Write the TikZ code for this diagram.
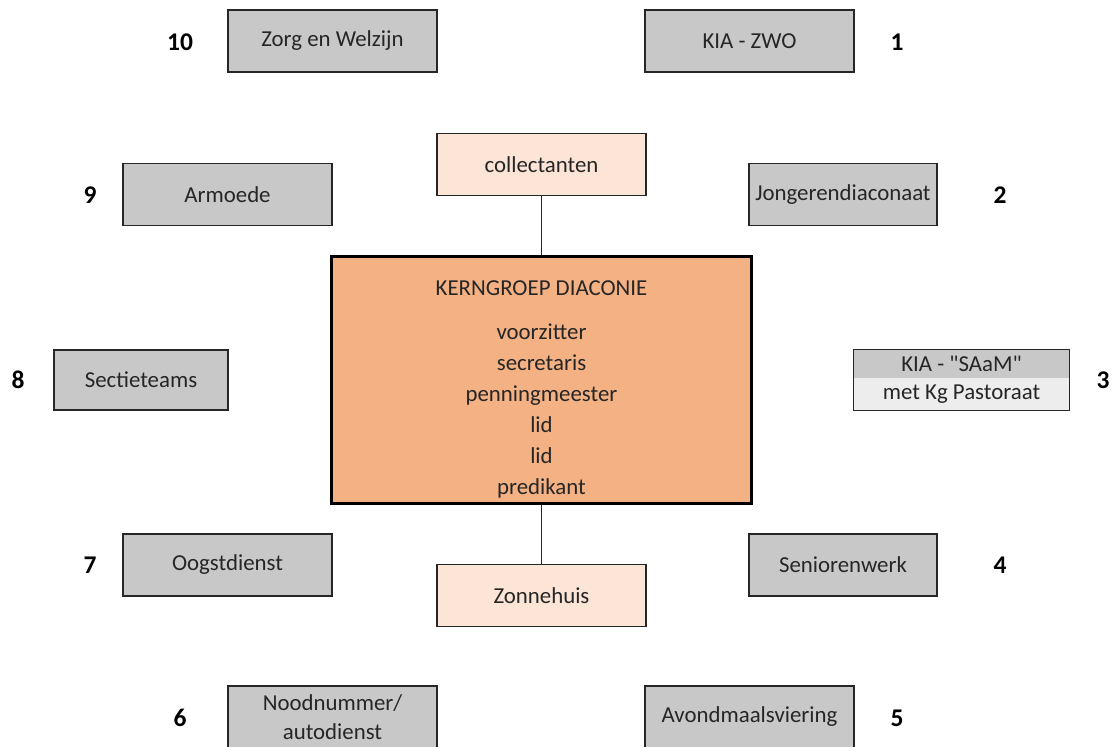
\documentclass[tikz,border=0pt]{standalone}
\usepackage{fontspec}
\setmainfont{Carlito}[Ligatures=TeXOff]
\usetikzlibrary{positioning}
\definecolor{grijsvak}{RGB}{200,200,200}
\definecolor{lichtgrijs}{RGB}{237,237,237}
\definecolor{kernoranje}{RGB}{244,177,131}
\definecolor{lichtperzik}{RGB}{252,228,214}
\definecolor{randkleur}{RGB}{38,38,38}
\tikzset{
  werkvak/.style={draw=randkleur, line width=0.9pt, fill=grijsvak, minimum width=4.18cm,
    minimum height=1.24cm, inner sep=1pt, align=center, text=randkleur},
  smalvak/.style={werkvak, minimum width=3.76cm},
  perzikvak/.style={werkvak, fill=lichtperzik},
  nummer/.style={font=\fontsize{14.5}{16}\selectfont\bfseries, text=black, inner sep=0pt},
  lijn/.style={draw=randkleur, line width=0.7pt}
}
\begin{document}
\begin{tikzpicture}[x=0.02cm, y=-0.02cm, font=\fontsize{13}{15.6}\selectfont]
			\clip (0,0) rectangle (1117,747);
			\fill[white] (0,0) rectangle (1117,747);
			% bovenste rij
			\node[werkvak] (zorg) at (332.5,41) {Zorg en Welzijn};
			\node[werkvak] (zwo) at (749.5,41) {KIA - ZWO};
			\node[nummer] (n10) at (180,42) {10};
			\node[nummer] (n1) at (897,42) {1};
			% tweede rij
			\node[perzikvak] (collect) at (541.5,164.5) {collectanten};
			\node[werkvak] (armoede) at (227.5,194.5) {Armoede};
			\node[smalvak] (jongeren) at (843,194.5) {Jongerendiaconaat};
			\node[nummer] (n9) at (90,195) {9};
			\node[nummer] (n2) at (1000,195) {2};
			% kerngroep
			\node[draw=black, line width=1.7pt, fill=kernoranje, minimum width=8.42cm, minimum height=4.92cm,
				align=center, text=randkleur, font=\fontsize{13}{17.6}\selectfont] (kern) at (541.5,380)
				{\rule{0pt}{19pt}KERNGROEP DIACONIE\\[7.4pt] voorzitter\\ secretaris\\ penningmeester\\ lid\\ lid\\ predikant};
			% middelste rij
			\node[werkvak, minimum width=3.48cm, minimum height=1.2cm] (sectie) at (141,380) {Sectieteams};
			\node[nummer] (n8) at (18,380) {8};
			\node[fill=grijsvak, minimum width=4.3cm, minimum height=0.56cm, inner sep=0pt, text=randkleur] (saamboven) at (961.5,364) {KIA - "SAaM"};
			\node[fill=lichtgrijs, minimum width=4.3cm, minimum height=0.64cm, inner sep=0pt, text=randkleur] (saamonder) at (961.5,394) {met Kg Pastoraat};
			\draw[randkleur, line width=0.9pt] (saamboven.north west) rectangle (saamonder.south east);
			\node[nummer] (n3) at (1103,380) {3};
			% vierde rij
			\node[werkvak] (oogst) at (227.5,565) {Oogstdienst};
			\node[smalvak] (senioren) at (843,565) {Seniorenwerk};
			\node[perzikvak] (zon) at (541.5,595.5) {Zonnehuis};
			\node[nummer] (n7) at (90,565) {7};
			\node[nummer] (n4) at (1000,565) {4};
			% onderste rij
			\node[werkvak, font=\fontsize{13}{16.4}\selectfont] (nood) at (332.5,717) {Noodnummer/\\autodienst};
			\node[werkvak] (avond) at (749.5,717) {Avondmaalsviering};
			\node[nummer] (n6) at (180,718) {6};
			\node[nummer] (n5) at (897,718) {5};
			% verbindingen
			\draw[lijn] (collect) -- (kern);
			\draw[lijn] (kern) -- (zon);
		\end{tikzpicture}
\end{document}
